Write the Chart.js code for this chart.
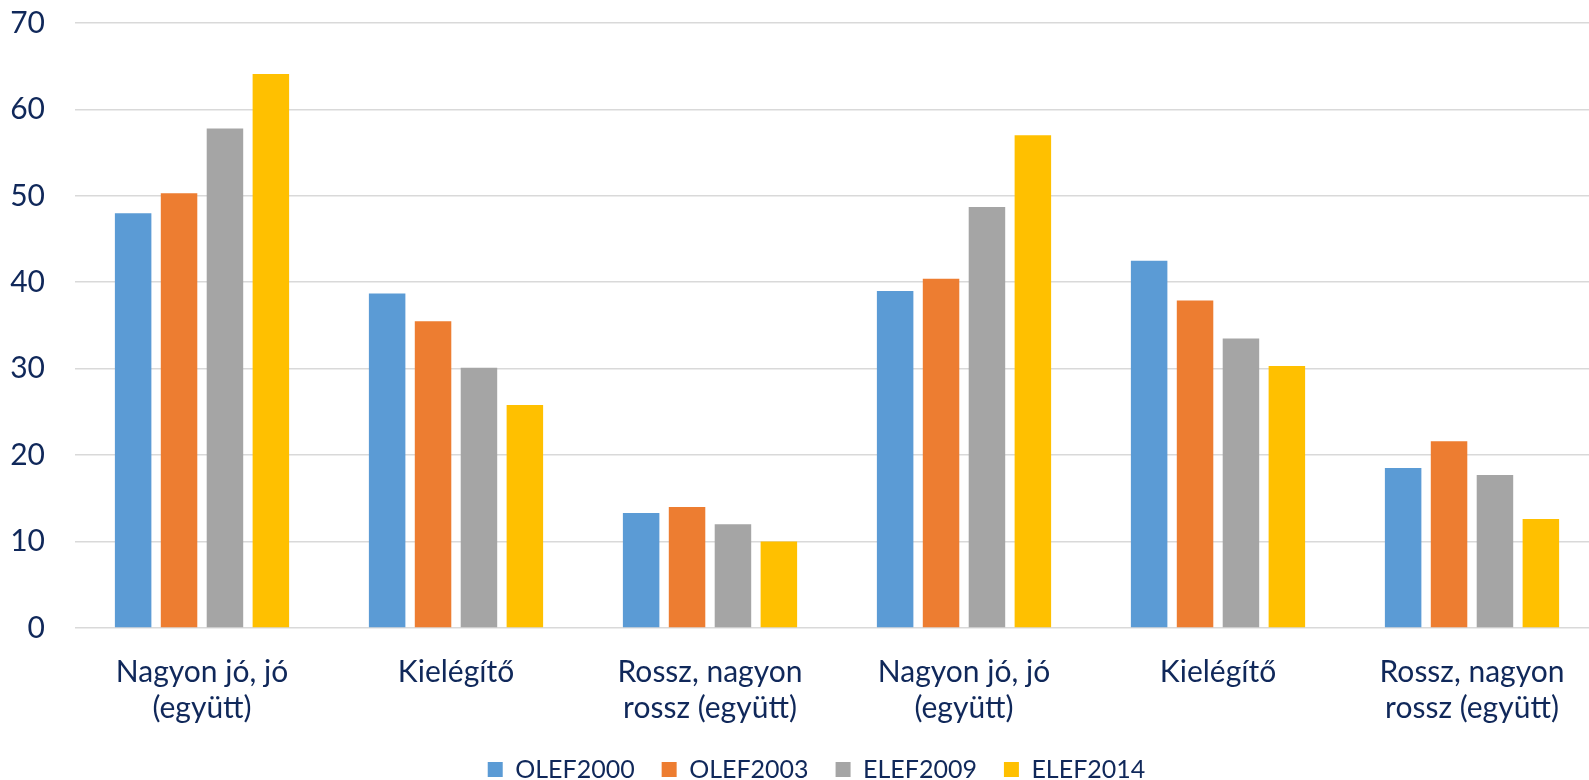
<!DOCTYPE html>
<html>
<head>
<meta charset="utf-8">
<script src="https://cdn.jsdelivr.net/npm/chart.js@4"></script>
<style>
 html,body{margin:0;padding:0;background:#fff;overflow:hidden;}
 #wrap{width:1600px;height:780px;}
</style>
</head>
<body>
<div id="wrap"><canvas id="c" width="1600" height="780"></canvas></div>
<script>
const categories=[
 ['Nagyon jó, jó','(együtt)'],
 'Kielégítő',
 ['Rossz, nagyon','rossz (együtt)'],
 ['Nagyon jó, jó','(együtt)'],
 'Kielégítő',
 ['Rossz, nagyon','rossz (együtt)']
];
const olef2000=[48.0,38.7,13.3,39.0,42.5,18.5];
const olef2003=[50.3,35.5,14.0,40.4,37.9,21.6];
const elef2009=[57.8,30.1,12.0,48.7,33.5,17.7];
const elef2014=[64.1,25.8,10.0,57.0,30.3,12.6];
const yTicks=[0,10,20,30,40,50,60,70];

const navy='#10285a';
const grid='#d9d9d9';
const font='Lato, "Noto Sans", sans-serif';

const ds=(label,data,color)=>({label,data,backgroundColor:color,borderWidth:0,categoryPercentage:.723,barPercentage:.795});

// nudge legend to be centred like the original
const legendShift={id:'legendShift',afterLayout(chart){
 if(chart.legend){chart.legend.left+=17;chart.legend.right+=17;}
}};

new Chart(document.getElementById('c'),{
 type:'bar',
 data:{labels:categories,datasets:[
  ds('OLEF2000',olef2000,'#5b9bd5'),
  ds('OLEF2003',olef2003,'#ed7d31'),
  ds('ELEF2009',elef2009,'#a5a5a5'),
  ds('ELEF2014',elef2014,'#ffc000')
 ]},
 plugins:[legendShift],
 options:{
  responsive:false,animation:false,
  layout:{padding:{top:23,right:1,left:0,bottom:-12}},
  plugins:{
   tooltip:{enabled:false},
   legend:{position:'bottom',labels:{color:navy,font:{family:font,size:25},boxWidth:15,boxHeight:15,padding:27}}
  },
  scales:{
   x:{
    grid:{display:false},border:{display:false},
    ticks:{color:navy,font:{family:font,size:30},padding:18,maxRotation:0,autoSkip:false},
    afterFit:s=>{s.height=102;}
   },
   y:{
    min:0,max:70,
    afterBuildTicks:s=>{s.ticks=yTicks.map(v=>({value:v}));},
    grid:{color:grid,lineWidth:1.6,drawTicks:false},border:{display:false},
    ticks:{color:navy,font:{family:font,size:30},padding:30},
    afterFit:s=>{s.width=75;s.paddingTop=0;s.paddingBottom=0;}
   }
  }
 }
});
</script>
</body>
</html>
